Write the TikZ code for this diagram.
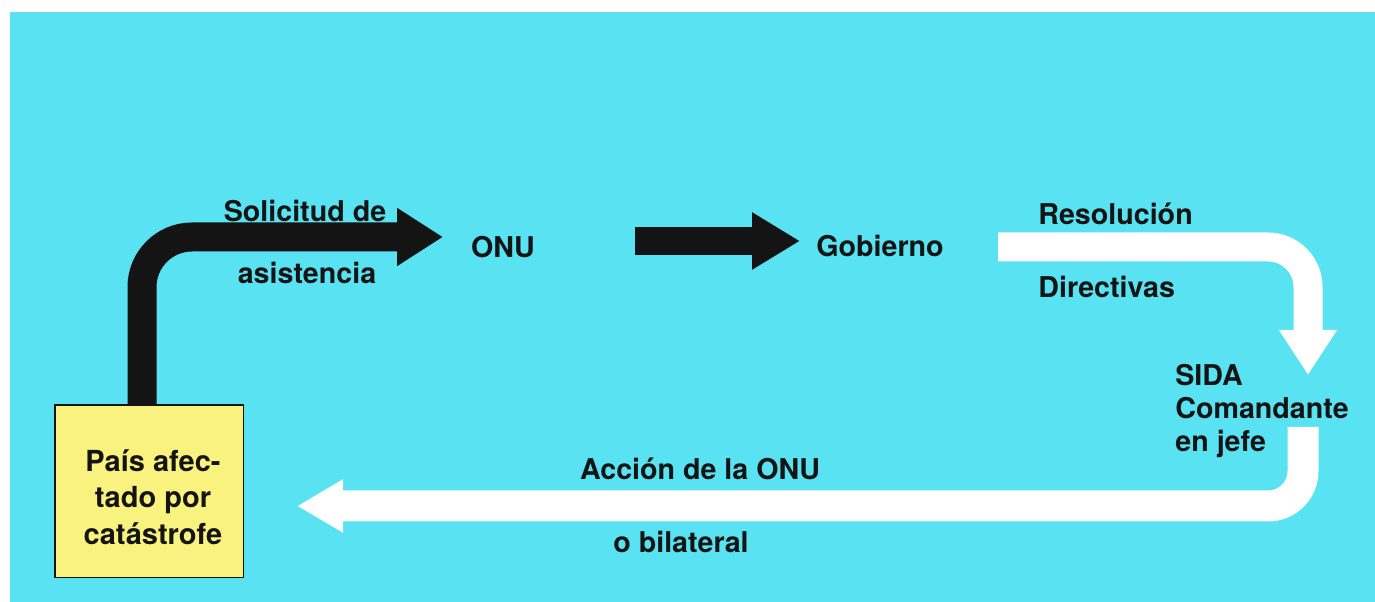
\documentclass[tikz,border=0pt]{standalone}
\usepackage{fontspec}
\setmainfont{TeX Gyre Heros}
\usetikzlibrary{arrows.meta}
\definecolor{skycyan}{RGB}{88,226,242}
\definecolor{boxyellow}{RGB}{249,242,126}
\definecolor{inkblack}{RGB}{20,20,20}

\begin{document}
\begin{tikzpicture}[
				tag/.style={font=\fontsize{16.3}{19}\selectfont\bfseries, text=inkblack, inner sep=0pt},
				blackarrow/.style={line width=0.58cm, draw=inkblack, rounded corners=1cm, -{Triangle[length=0.92cm, width=1.1cm]}},
				whitearrow/.style={line width=0.58cm, draw=white, rounded corners=0.8cm, -{Triangle[length=0.9cm, width=1.1cm]}},
				countrybox/.style={draw=inkblack, fill=boxyellow, minimum width=3.76cm, minimum height=3.44cm}
				]
				
				\useasboundingbox (0,0) rectangle (27.5,12.04);
				\fill[white] (0,0) rectangle (27.5,12.04);
				\fill[skycyan] (0.2,0) rectangle (27.5,11.8);
				
				\coordinate (req) at (8.86,7.3);
				\coordinate (onuout) at (12.7,7.22);
				\coordinate (govin) at (16.0,7.22);
				\coordinate (govout) at (19.96,7.1);
				\coordinate (sidain) at (26.16,4.54);
				\coordinate (sidaout) at (26.06,3.5);
				\coordinate (back) at (5.94,1.92);
				
				\node[countrybox] (box) at (2.98,2.22) {};
				\node[tag, align=center, font=\fontsize{16.5}{20.8}\selectfont\bfseries] (country) at (3.06,2.1) {País afec-\\tado por\\catástrofe};
				
				\node[tag, anchor=base] (onu) at (10.06,6.88) {ONU};
				\node[tag, anchor=base] (gov) at (17.6,6.9) {Gobierno};
				\node[tag, anchor=base] (sol1) at (6.1,7.6) {Solicitud de};
				\node[tag, anchor=base] (sol2) at (6.14,6.36) {asistencia};
				\node[tag, anchor=base west] (res) at (20.76,7.54) {Resolución};
				\node[tag, anchor=base west] (dir) at (20.76,6.08) {Directivas};
				\node[tag, align=left, anchor=base west] (sida) at (23.5,3.0) {SIDA\\Comandante\\en jefe};
				\node[tag, anchor=base] (act1) at (14.0,2.44) {Acción de la ONU};
				\node[tag, anchor=base] (act2) at (13.62,0.98) {o bilateral};
				
				\draw[blackarrow] ([xshift=-0.14cm]box.north) |- (req);
				\draw[blackarrow, line width=0.56cm, -{Triangle[length=0.96cm, width=1.08cm]}] (onuout) -- (govin);
				\draw[whitearrow] (govout) -| (sidain);
				\draw[whitearrow, line width=0.62cm, rounded corners=0.7cm, -{Triangle[length=0.92cm, width=1.0cm]}] (sidaout) |- (back);
				
				\draw[inkblack] (box.south west) rectangle (box.north east);
				
			\end{tikzpicture}
\end{document}
